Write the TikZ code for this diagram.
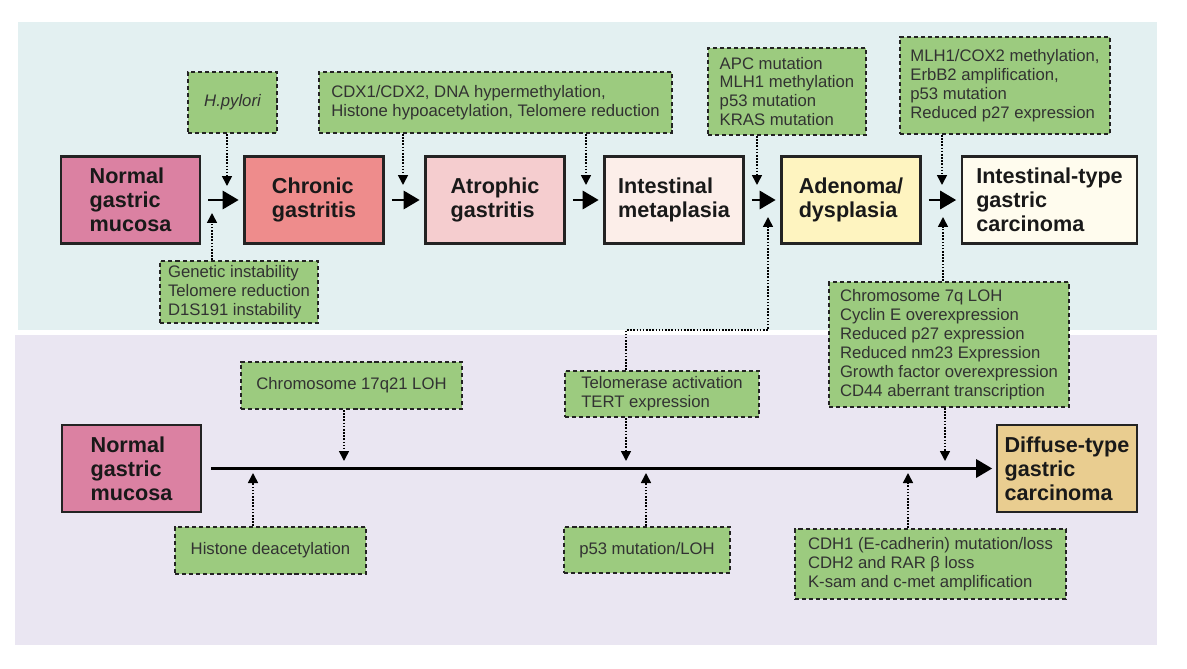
\documentclass[tikz,border=0pt]{standalone}
\definecolor{bandblue}{RGB}{227,240,241}
\definecolor{bandlilac}{RGB}{234,230,242}
\definecolor{normalpink}{RGB}{219,129,162}
\definecolor{chronicred}{RGB}{238,140,140}
\definecolor{atrophicpink}{RGB}{245,205,207}
\definecolor{metaplasiapeach}{RGB}{252,238,233}
\definecolor{adenomayellow}{RGB}{254,244,192}
\definecolor{intestcream}{RGB}{255,252,238}
\definecolor{diffusetan}{RGB}{233,205,144}
\definecolor{factorgreen}{RGB}{156,203,127}
\definecolor{edgedark}{RGB}{35,35,35}
\definecolor{factortext}{RGB}{50,50,50}
\usepackage{fontspec}
\setmainfont{Liberation Sans}
\usepackage{tikz}
\usetikzlibrary{arrows.meta,positioning,calc}
\tikzset{
  stage/.style={draw=edgedark,line width=1.5pt,minimum width=2.78cm,minimum height=1.74cm,
    align=left,inner sep=2pt,text=black!90,font=\fontsize{12.3}{13.6}\selectfont\bfseries},
  factor/.style={fill=factorgreen,draw=edgedark,line width=1.1pt,dash pattern=on 2.3pt off 1.7pt,
    align=left,inner sep=1pt,text=factortext,font=\fontsize{9.5}{10.8}\selectfont},
  flow/.style={line width=1.7pt,-{Triangle[length=0.32cm,width=0.36cm]},
    shorten <=0.14cm,shorten >=0.09cm},
  hit/.style={line width=0.9pt,dash pattern=on 0.9pt off 0.9pt,-{Triangle[length=0.2cm,width=0.2cm]}}
}
\begin{document}
\begin{tikzpicture}[x=0.02cm,y=-0.02cm]
\useasboundingbox (0,0) rectangle (1187,669);
\fill[bandblue] (18,22) rectangle (1157,330);
\fill[bandlilac] (15,335) rectangle (1157,645);

% intestinal pathway
\node[stage,fill=normalpink] (nmTop) at (130.5,200) {Normal\\gastric\\mucosa};
\node[stage,fill=chronicred] (cg) at (314,200) {Chronic\\gastritis};
\node[stage,fill=atrophicpink] (ag) at (495,200) {Atrophic\\gastritis};
\node[stage,fill=metaplasiapeach] (im) at (674,200) {Intestinal\\metaplasia};
\node[stage,fill=adenomayellow] (ad) at (851,200) {Adenoma/\\dysplasia};
\node[stage,fill=intestcream,minimum width=3.5cm] (it) at (1049.5,200) {Intestinal-type\\gastric\\carcinoma};
\foreach \a/\b in {nmTop/cg,cg/ag,ag/im,im/ad,ad/it}
  \draw[flow] (\a) -- (\b);

\node[factor,minimum width=1.78cm,minimum height=1.22cm] (hp) at (232.5,102.5) {\itshape H.pylori};
\node[factor,minimum width=3.16cm,minimum height=1.24cm] (gi) at (239,292) {Genetic instability\\Telomere reduction\\D1S191 instability};
\node[factor,minimum width=7.06cm,minimum height=1.22cm] (cdx) at (495.5,102.5) {CDX1/CDX2, DNA hypermethylation,\\Histone hypoacetylation, Telomere reduction};
\node[factor,minimum width=3.16cm,minimum height=1.74cm] (apc) at (787,91.5) {APC mutation\\MLH1 methylation\\p53 mutation\\KRAS mutation};
\node[factor,minimum width=4.2cm,minimum height=1.94cm] (mlh) at (1005,85.5) {MLH1/COX2 methylation,\\ErbB2 amplification,\\p53 mutation\\Reduced p27 expression};
\node[factor,minimum width=4.8cm,minimum height=2.5cm] (chr7) at (949,344.5) {Chromosome 7q LOH\\Cyclin E overexpression\\Reduced p27 expression\\Reduced nm23 Expression\\Growth factor overexpression\\CD44 aberrant transcription};
\node[factor,minimum width=3.88cm,minimum height=0.92cm] (tel) at (662,394) {Telomerase activation\\TERT expression};

\coordinate (hpTip) at (227,186);
\coordinate (giTip) at (212,213);
\coordinate (cdxTipA) at (403,185);
\coordinate (cdxTipB) at (586,185);
\coordinate (apcTip) at (757,185);
\coordinate (mlhTip) at (942,185);
\coordinate (chrTopTip) at (943,217);
\coordinate (telKnee) at (626,330);
\coordinate (telTip) at (768,217);
\draw[hit] (hp.south -| hpTip) -- (hpTip);
\draw[hit] (gi.north -| giTip) -- (giTip);
\draw[hit] (cdx.south -| cdxTipA) -- (cdxTipA);
\draw[hit] (cdx.south -| cdxTipB) -- (cdxTipB);
\draw[hit] (apc.south -| apcTip) -- (apcTip);
\draw[hit] (mlh.south -| mlhTip) -- (mlhTip);
\draw[hit] (chr7.north -| chrTopTip) -- (chrTopTip);
\draw[hit] (tel.north -| telKnee) -- (telKnee) -| (telTip);

% diffuse pathway
\node[stage,fill=normalpink] (nmBot) at (131.5,468.5) {Normal\\gastric\\mucosa};
\node[stage,fill=diffusetan,minimum width=2.8cm] (dt) at (1067,468.5) {Diffuse-type\\gastric\\carcinoma};
\draw[flow,shorten <=0.18cm,shorten >=0.07cm] (nmBot) -- (dt);

\node[factor,minimum width=4.42cm,minimum height=0.94cm] (chr17) at (351.5,385.5) {Chromosome 17q21 LOH};
\node[factor,minimum width=3.82cm,minimum height=0.94cm] (hd) at (270.5,550.5) {Histone deacetylation};
\node[factor,minimum width=3.32cm,minimum height=0.92cm] (p53) at (647,550) {p53 mutation/LOH};
\node[factor,minimum width=5.42cm,minimum height=1.4cm] (cdh) at (930.5,564) {CDH1 (E-cadherin) mutation/loss\\CDH2 and RAR β loss\\K-sam and c-met amplification};

\coordinate (chr17Tip) at (344,461);
\coordinate (telDownTip) at (626,461);
\coordinate (chrBotTip) at (945,461);
\coordinate (hdTip) at (253,473);
\coordinate (p53Tip) at (646,473);
\coordinate (cdhTip) at (908,473);
\draw[hit] (chr17.south -| chr17Tip) -- (chr17Tip);
\draw[hit] (tel.south -| telDownTip) -- (telDownTip);
\draw[hit] (chr7.south -| chrBotTip) -- (chrBotTip);
\draw[hit] (hd.north -| hdTip) -- (hdTip);
\draw[hit] (p53.north -| p53Tip) -- (p53Tip);
\draw[hit] (cdh.north -| cdhTip) -- (cdhTip);
\end{tikzpicture}
\end{document}
